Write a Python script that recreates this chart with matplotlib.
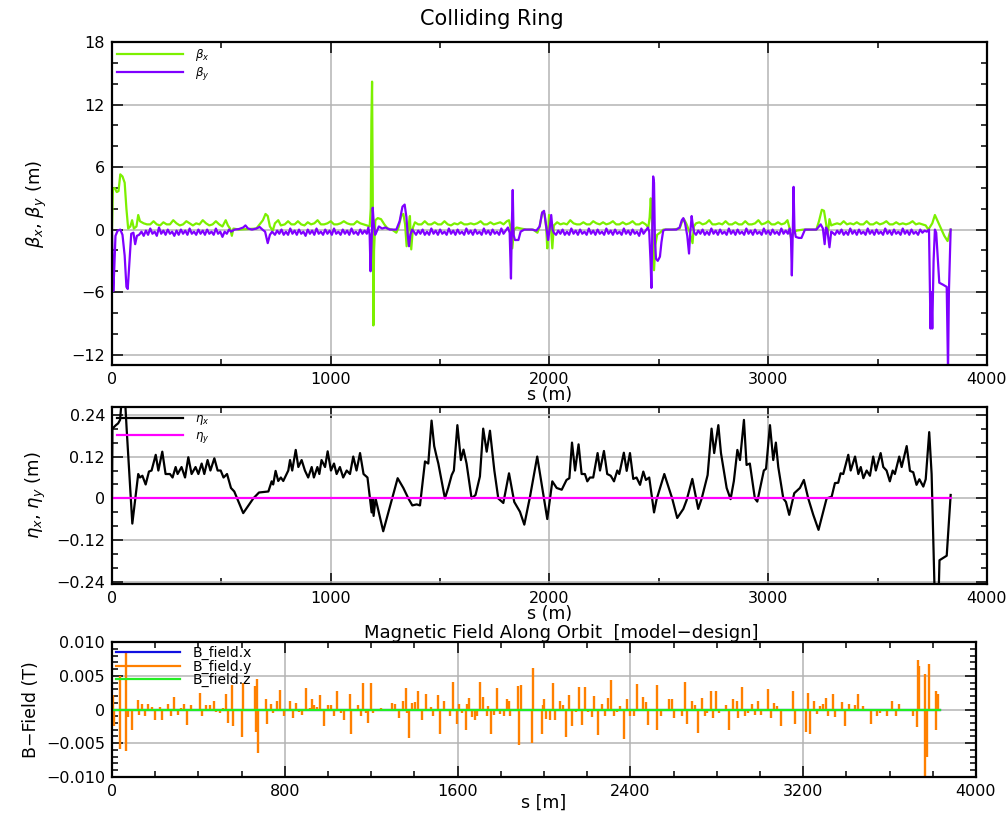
import matplotlib
matplotlib.use("Agg")
import matplotlib.pyplot as plt
from matplotlib.ticker import MultipleLocator, FuncFormatter

# ---- lattice functions along the ring: (s [m], value) ----
betax_pts = [(0,0.0),(4,3.9),(12,4.0),(22,3.6),(30,3.7),(38,5.3),(48,5.1),(58,4.5),(66,2.0),(74,0.1),
    (84,0.3),(92,0.9),(100,0.1),(112,0.3),(120,1.4),(128,0.8),
    (145,0.6),(160,0.5),(175,0.5),(190,0.8),(205,0.5),(220,0.4),(235,0.7),(250,0.5),(265,0.5),(280,0.9),
    (295,0.6),(310,0.4),(325,0.5),(340,0.8),(355,0.6),(370,0.4),(385,0.6),(400,0.5),(415,0.9),(430,0.6),
    (445,0.4),(460,0.5),(475,0.8),(490,0.5),(505,0.3),(520,0.9),(530,0.4),(540,0.1),(548,-0.6),(555,0.1),
    (580,0.0),(620,0.05),(660,0.1),(690,0.9),(702,1.5),(712,1.3),(722,0.3),(735,-0.1),(745,0.6),(760,0.9),(772,0.4),
    (790,0.5),(805,0.8),(820,0.5),(835,0.5),(850,0.8),(865,0.5),(880,0.4),(895,0.7),(910,0.5),(925,0.6),
    (940,0.9),(955,0.5),(970,0.5),(985,0.6),(1000,0.8),(1015,0.5),(1030,0.5),(1045,0.6),(1060,0.8),(1075,0.6),
    (1090,0.5),(1105,0.5),(1120,0.8),(1135,0.6),(1150,0.5),(1165,0.4),(1178,0.3),
    (1183,2.0),(1186,10.5),(1189,14.2),(1192,4.0),(1195,-9.2),(1198,-2.0),(1204,0.9),(1215,1.1),(1230,1.0),
    (1245,0.5),(1260,0.1),(1280,0.0),(1300,-0.3),(1310,0.2),(1322,1.3),(1332,1.5),(1340,0.5),(1347,-1.6),
    (1355,0.2),(1362,1.3),(1368,-1.9),(1376,0.2),(1385,0.7),
    (1400,0.5),(1415,0.5),(1430,0.8),(1445,0.5),(1460,0.5),(1475,0.7),(1490,0.5),(1505,0.5),(1520,0.8),
    (1535,0.5),(1550,0.4),(1565,0.6),(1580,0.5),(1595,0.7),(1610,0.5),(1625,0.5),(1640,0.6),(1655,0.5),
    (1670,0.6),(1685,0.8),(1700,0.5),(1715,0.5),(1730,0.7),(1745,0.5),(1760,0.6),(1775,0.7),(1790,0.5),
    (1805,0.8),(1815,0.9),(1822,0.2),(1830,-1.8),(1838,0.0),(1850,0.2),(1870,0.1),(1895,0.0),(1925,0.0),
    (1945,-0.3),(1955,0.3),(1968,1.7),(1978,1.5),(1985,0.2),(1990,-1.8),(1998,1.4),(2006,0.5),(2013,-1.8),(2020,0.4),
    (2035,0.7),(2050,0.5),(2065,0.6),(2080,0.5),(2095,0.9),(2110,0.6),(2125,0.5),(2140,0.5),(2155,0.7),
    (2170,0.5),(2185,0.5),(2200,0.8),(2215,0.6),(2230,0.5),(2245,0.7),(2260,0.5),(2275,0.6),(2290,0.8),
    (2305,0.5),(2320,0.5),(2335,0.7),(2350,0.5),(2365,0.6),(2380,0.8),(2395,0.5),(2410,0.5),(2425,0.7),
    (2440,0.5),(2452,0.2),
    (2458,1.2),(2463,3.0),(2468,1.0),(2474,-2.0),(2478,-3.9),(2484,-1.5),(2492,-0.5),(2505,-0.3),(2520,0.0),
    (2560,0.0),(2595,0.1),(2605,0.7),(2615,1.0),(2625,0.6),(2640,-0.2),(2654,-1.3),(2660,0.3),
    (2670,0.6),(2685,0.7),(2700,0.5),(2715,0.6),(2730,0.9),(2745,0.5),(2760,0.5),(2775,0.6),(2790,0.5),
    (2805,0.8),(2820,0.5),(2835,0.5),(2850,0.7),(2865,0.5),(2880,0.5),(2895,0.8),(2910,0.5),(2925,0.5),
    (2940,0.6),(2955,0.9),(2970,0.5),(2985,0.6),(3000,0.8),(3015,0.5),(3030,0.5),(3045,0.7),(3060,0.5),
    (3075,0.6),(3088,0.9),(3098,0.1),(3105,-1.0),(3115,-0.3),(3130,-0.1),(3160,0.0),(3220,0.0),(3232,0.8),
    (3245,1.9),(3255,1.8),(3265,0.5),(3272,-0.5),(3280,1.0),(3288,0.4),
    (3300,0.5),(3315,0.6),(3330,0.5),(3345,0.8),(3360,0.5),(3375,0.6),(3390,0.5),(3405,0.7),(3420,0.5),
    (3435,0.5),(3450,0.8),(3465,0.5),(3480,0.5),(3495,0.7),(3510,0.5),(3525,0.6),(3540,0.8),(3555,0.5),
    (3570,0.5),(3585,0.7),(3600,0.5),(3615,0.6),(3630,0.5),(3645,0.6),(3660,0.8),(3675,0.5),(3690,0.6),
    (3705,0.5),(3720,0.4),(3732,0.0),(3750,0.6),(3762,1.4),(3775,0.8),(3790,0.1),(3805,-0.6),(3820,-1.1),(3834,0.0)]

betay_pts = [(0,0.0),(3,-3.0),(6,-5.9),(10,-4.0),(16,-0.6),(26,-0.1),(38,0.0),(48,-0.5),(58,-2.5),(66,-5.5),
    (72,-5.7),(80,-3.0),(88,-0.4),(98,-0.3),(106,-1.4),(114,-0.6),(124,-0.5),
    (135,-0.2),(145,-0.6),(155,-0.1),(165,-0.5),(175,0.1),(185,-0.4),(195,-0.2),(205,-0.6),(215,0.2),
    (225,-0.4),(235,-0.1),(245,-0.5),(255,0.0),(265,-0.4),(275,-0.2),(285,-0.6),(295,-0.1),(305,-0.5),
    (315,0.0),(325,-0.4),(335,-0.1),(345,-0.5),(355,0.1),(365,-0.4),(375,-0.2),(385,-0.5),(395,0.0),
    (405,-0.4),(415,-0.1),(425,-0.5),(435,0.0),(445,-0.4),(455,-0.2),(465,-0.5),(475,0.1),(485,-0.4),
    (495,-0.2),(505,-0.7),(515,-0.2),(525,-0.4),(535,0.0),(545,-0.2),(560,0.0),(580,0.05),(600,0.2),
    (610,0.4),(622,0.1),(640,0.0),(660,0.1),(675,0.25),(688,0.0),(700,-0.2),(712,-1.3),(722,-0.5),(732,-0.2),
    (745,-0.5),(755,-0.1),(765,-0.4),(775,0.0),(785,-0.5),(795,-0.2),(805,-0.5),(815,0.1),(825,-0.4),
    (835,-0.1),(845,-0.5),(855,0.0),(865,-0.4),(875,-0.2),(885,-0.6),(895,0.0),(905,-0.4),(915,-0.1),
    (925,-0.5),(935,0.1),(945,-0.4),(955,-0.2),(965,-0.5),(975,0.0),(985,-0.4),(995,-0.1),(1005,-0.5),
    (1015,0.1),(1025,-0.4),(1035,-0.2),(1045,-0.5),(1055,0.0),(1065,-0.4),(1075,-0.1),(1085,-0.5),
    (1095,0.1),(1105,-0.4),(1115,-0.2),(1125,-0.5),(1135,0.0),(1145,-0.4),(1155,-0.1),(1165,-0.4),
    (1172,0.2),(1178,-0.5),(1182,-4.0),(1187,-1.0),(1192,2.1),(1197,0.5),(1203,-0.5),(1210,-0.2),
    (1220,0.3),(1235,0.1),(1250,0.2),(1270,0.0),(1300,0.0),(1315,0.8),(1328,2.2),(1338,2.4),(1346,1.2),
    (1352,-0.5),(1358,-1.6),(1364,-0.5),(1372,0.0),(1380,-0.2),
    (1390,-0.5),(1400,-0.1),(1410,-0.4),(1420,0.0),(1430,-0.5),(1440,-0.2),(1450,-0.5),(1460,0.1),
    (1470,-0.4),(1480,-0.1),(1490,-0.5),(1500,0.0),(1510,-0.4),(1520,-0.2),(1530,-0.5),(1540,0.1),
    (1550,-0.4),(1560,-0.1),(1570,-0.5),(1580,0.0),(1590,-0.4),(1600,-0.2),(1610,-0.5),(1620,0.1),
    (1630,-0.4),(1640,-0.1),(1650,-0.5),(1660,0.0),(1670,-0.4),(1680,-0.2),(1690,-0.5),(1700,0.1),
    (1710,-0.4),(1720,-0.1),(1730,-0.5),(1740,0.0),(1750,-0.4),(1760,-0.2),(1770,-0.5),(1780,0.1),
    (1790,-0.4),(1800,-0.1),(1810,0.2),(1818,-0.3),(1824,-4.7),(1828,0.5),(1832,3.8),(1836,-0.5),
    (1842,-1.0),(1858,-1.0),(1868,-0.2),(1885,0.0),(1920,0.0),(1940,-0.1),(1955,0.3),(1966,1.6),
    (1975,1.8),(1984,0.5),(1994,-1.0),(2002,0.3),(2008,1.4),(2014,0.0),(2020,-0.3),
    (2030,-0.5),(2040,-0.1),(2050,-0.4),(2060,0.0),(2070,-0.5),(2080,-0.2),(2090,-0.5),(2100,0.1),
    (2110,-0.4),(2120,-0.1),(2130,-0.5),(2140,0.0),(2150,-0.4),(2160,-0.2),(2170,-0.5),(2180,0.1),
    (2190,-0.4),(2200,-0.1),(2210,-0.5),(2220,0.0),(2230,-0.4),(2240,-0.2),(2250,-0.5),(2260,0.1),
    (2270,-0.4),(2280,-0.1),(2290,-0.5),(2300,0.0),(2310,-0.4),(2320,-0.2),(2330,-0.5),(2340,0.1),
    (2350,-0.4),(2360,-0.1),(2370,-0.5),(2380,0.0),(2390,-0.4),(2400,-0.2),(2410,-0.6),(2420,0.1),
    (2430,-0.4),(2440,-0.1),(2450,0.2),(2456,-0.2),(2462,-3.0),(2466,-5.6),(2470,0.0),(2474,5.1),
    (2478,4.5),(2482,-1.0),(2487,-2.8),(2495,-3.0),(2505,-2.6),(2512,-1.2),(2520,-0.1),(2530,0.0),
    (2580,0.0),(2595,0.2),(2605,0.9),(2612,1.1),(2620,0.6),(2630,-0.6),(2638,-2.3),(2643,-0.5),
    (2650,1.3),(2656,0.3),(2662,-0.3),
    (2670,-0.5),(2680,-0.1),(2690,-0.4),(2700,0.0),(2710,-0.5),(2720,-0.2),(2730,-0.5),(2740,0.1),
    (2750,-0.4),(2760,-0.1),(2770,-0.5),(2780,0.0),(2790,-0.4),(2800,-0.2),(2810,-0.5),(2820,0.1),
    (2830,-0.4),(2840,-0.1),(2850,-0.5),(2860,0.0),(2870,-0.4),(2880,-0.2),(2890,-0.5),(2900,0.1),
    (2910,-0.4),(2920,-0.1),(2930,-0.5),(2940,0.0),(2950,-0.4),(2960,-0.2),(2970,-0.5),(2980,0.1),
    (2990,-0.4),(3000,-0.1),(3010,-0.5),(3020,0.0),(3030,-0.4),(3040,-0.2),(3050,-0.5),(3060,0.1),
    (3070,-0.4),(3080,-0.1),(3090,-0.4),(3098,0.1),(3104,-0.8),(3108,-4.4),(3112,-0.5),(3116,4.1),
    (3120,0.0),(3126,-0.7),(3140,-0.8),(3152,-0.8),(3160,-0.4),(3168,0.0),(3220,0.0),(3232,0.3),
    (3240,0.5),(3250,0.1),(3258,-1.4),(3264,0.2),(3270,0.0),(3280,-1.7),(3288,-0.2),(3295,-0.3),
    (3305,-0.5),(3315,-0.1),(3325,-0.4),(3335,0.0),(3345,-0.5),(3355,-0.2),(3365,-0.5),(3375,0.1),
    (3385,-0.4),(3395,-0.1),(3405,-0.5),(3415,0.0),(3425,-0.4),(3435,-0.2),(3445,-0.5),(3455,0.1),
    (3465,-0.4),(3475,-0.1),(3485,-0.5),(3495,0.0),(3505,-0.4),(3515,-0.2),(3525,-0.5),(3535,0.1),
    (3545,-0.4),(3555,-0.1),(3565,-0.5),(3575,0.0),(3585,-0.4),(3595,-0.2),(3605,-0.5),(3615,0.1),
    (3625,-0.4),(3635,-0.1),(3645,-0.5),(3655,0.0),(3665,-0.4),(3675,-0.2),(3685,-0.5),(3695,0.0),
    (3705,-0.3),(3715,-0.1),(3725,-0.2),(3735,0.0),(3742,-9.5),(3746,-6.0),(3750,-9.5),(3756,-3.0),
    (3762,0.0),(3768,-0.3),(3782,-5.1),(3800,-5.3),(3816,-5.5),(3822,-13.5),(3826,-6.0),(3834,0.0)]

etax_pts = [(0,0.0),(2,0.20),(18,0.21),(28,0.215),(37,0.225),(44,0.28),(60,0.28),(67,0.2),(93,-0.072),
    (120,0.07),(128,0.06),(139,0.065),(154,0.04),(169,0.077),(181,0.08),(200,0.125),(212,0.08),(230,0.134),
    (245,0.07),(265,0.07),(277,0.06),(291,0.09),(300,0.07),(318,0.09),(334,0.06),(349,0.118),(364,0.07),
    (382,0.09),(395,0.07),(410,0.10),(422,0.07),(437,0.11),(450,0.08),(468,0.115),(483,0.08),(497,0.08),
    (510,0.06),(526,0.07),(544,0.03),(559,0.02),(600,-0.042),(646,0.0),(672,0.017),(715,0.02),(730,0.049),
    (737,0.04),(748,0.079),(760,0.05),(772,0.06),(783,0.05),(806,0.08),(814,0.11),(824,0.08),(840,0.139),
    (852,0.09),(867,0.11),(882,0.08),(897,0.06),(913,0.09),(923,0.06),(939,0.09),(948,0.07),(958,0.11),
    (974,0.09),(986,0.135),(1001,0.08),(1015,0.10),(1027,0.07),(1042,0.09),(1057,0.06),(1073,0.08),
    (1088,0.07),(1103,0.12),(1118,0.08),(1134,0.13),(1150,0.07),(1168,0.06),(1187,-0.04),(1191,0.0),
    (1196,-0.05),(1205,0.0),(1240,-0.094),(1306,0.058),(1332,0.03),(1355,0.0),(1373,-0.02),(1393,-0.017),
    (1408,-0.02),(1431,0.106),(1446,0.10),(1461,0.223),(1473,0.15),(1484,0.12),(1492,0.10),(1522,0.0),
    (1537,0.03),(1553,0.067),(1563,0.08),(1579,0.21),(1595,0.11),(1607,0.14),(1621,0.10),(1644,0.0),
    (1662,0.01),(1682,0.063),(1697,0.20),(1713,0.134),(1728,0.194),(1748,0.08),(1766,0.0),(1789,-0.013),
    (1815,0.072),(1839,-0.01),(1865,-0.038),(1885,-0.075),(1911,0.005),(1944,0.12),(1990,-0.059),
    (2013,0.049),(2033,0.03),(2056,0.025),(2078,0.053),(2091,0.058),(2103,0.16),(2117,0.08),(2133,0.155),
    (2147,0.07),(2162,0.07),(2173,0.049),(2185,0.06),(2200,0.06),(2220,0.13),(2231,0.08),(2249,0.136),
    (2264,0.07),(2280,0.065),(2295,0.049),(2310,0.08),(2319,0.07),(2340,0.131),(2353,0.079),(2368,0.13),
    (2383,0.056),(2398,0.06),(2414,0.039),(2429,0.077),(2441,0.053),(2456,0.06),(2478,-0.04),(2490,-0.002),
    (2525,0.07),(2561,0.0),(2584,-0.056),(2612,-0.03),(2627,-0.005),(2653,0.056),(2680,-0.030),(2696,0.0),
    (2723,0.067),(2741,0.20),(2753,0.13),(2772,0.21),(2784,0.13),(2810,0.03),(2828,-0.002),(2843,0.05),
    (2859,0.139),(2871,0.11),(2889,0.225),(2901,0.096),(2916,0.10),(2939,0.0),(2950,-0.009),(2970,0.05),
    (2980,0.08),(2990,0.085),(3008,0.21),(3023,0.11),(3035,0.16),(3046,0.09),(3069,0.0),(3081,-0.01),
    (3096,-0.047),(3119,0.015),(3145,0.03),(3163,0.053),(3183,0.0),(3206,-0.047),(3230,-0.09),(3267,0.0),
    (3290,0.005),(3305,0.044),(3320,0.045),(3331,0.072),(3343,0.07),(3366,0.125),(3377,0.08),(3397,0.12),
    (3412,0.07),(3423,0.09),(3435,0.058),(3450,0.08),(3465,0.065),(3480,0.12),(3492,0.08),(3514,0.13),
    (3526,0.09),(3541,0.08),(3556,0.049),(3569,0.08),(3579,0.07),(3599,0.12),(3610,0.09),(3633,0.15),
    (3648,0.079),(3663,0.075),(3678,0.039),(3691,0.055),(3709,0.034),(3720,0.055),(3736,0.19),(3747,0.07),
    (3762,-0.30),(3778,-0.30),(3783,-0.177),(3816,-0.164),(3834,0.01)]

etay_pts = [(0,0.0),(3834,0.0)]

# ---- field along orbit ----
bxz_pts = [(0,0.0),(3834,0.0)]
by_s = [5,8,36,38,64,66,76,91,119,127,140,153,168,184,199,222,233,258,273,289,304,319,333,349,366,381,
    407,418,435,454,474,481,500,515,526,539,554,562,603,608,662,665,673,674,711,719,736,747,762,778,796,
    824,839,850,867,881,898,915,924,937,947,963,981,998,1014,1029,1043,1060,1075,1102,1106,1137,1152,1163,
    1174,1186,1197,1210,1245,1295,1310,1328,1345,1361,1364,1375,1387,1403,1418,1434,1453,1464,1477,1488,
    1508,1518,1538,1549,1565,1580,1595,1608,1622,1639,1642,1652,1665,1680,1688,1703,1719,1734,1742,1757,
    1770,1781,1796,1816,1827,1838,1842,1881,1884,1893,1943,1948,1989,1994,2000,2009,2028,2040,2051,2074,
    2086,2102,2117,2131,2146,2162,2177,2190,2205,2220,2233,2251,2267,2282,2298,2308,2324,2339,2352,2370,
    2386,2398,2416,2429,2457,2472,2480,2521,2524,2540,2580,2591,2602,2637,2652,2663,2683,2699,2714,2730,
    2745,2756,2771,2784,2796,2811,2842,2858,2876,2892,2899,2915,2930,2946,2961,2977,2992,3007,3038,3049,
    3064,3080,3095,3154,3162,3213,3223,3231,3250,3265,3277,3293,3305,3316,3336,3347,3382,3393,3413,3439,
    3455,3478,3512,3540,3555,3589,3609,3632,3645,3710,3725,3733,3737,3762,3764,3771,3784,3814,3817,3825]
by_val = [0.0022,-0.0025,0.005,-0.0058,0.0084,-0.0062,-0.0011,-0.0031,0.0014,-0.0008,0.0008,-0.0009,
    0.0008,0.0003,-0.0015,0.0003,-0.0015,0.0008,-0.0009,0.0018,-0.0008,0.0002,0.0008,-0.0023,0.0006,
    -0.0001,0.0025,-0.001,0.0006,0.0006,0.0012,-0.0004,-0.0005,0.0002,0.0023,-0.002,0.0036,-0.0024,
    -0.0041,0.004,0.0035,-0.0034,0.0045,-0.0064,0.0016,-0.0021,0.0008,-0.0005,0.0013,0.0029,-0.0009,
    0.0013,-0.0013,0.001,-0.0004,-0.0008,0.0032,0.0002,0.0015,0.0006,0.0003,0.0021,-0.0024,0.0006,0.0006,
    -0.001,0.0028,-0.0005,-0.0016,0.0023,-0.0037,0.0006,-0.0009,0.0039,-0.0005,-0.002,0.0039,-0.0005,
    0.0002,0.001,0.0008,-0.0013,0.0013,0.0032,-0.0005,-0.0042,0.001,0.0011,0.0028,-0.0016,0.0023,-0.0001,
    0.0003,-0.0009,0.0021,-0.0037,0.0013,-0.0001,-0.001,0.0041,-0.0021,0.0008,-0.0005,-0.003,0.0008,
    0.0017,-0.0011,-0.0016,-0.0009,0.0041,0.0018,-0.0009,0.0005,-0.0037,-0.0008,0.0032,-0.0006,-0.0009,
    0.0016,0.0012,-0.0009,0.0035,-0.0053,0.0036,-0.0049,0.0061,-0.0036,0.0006,0.0015,-0.0014,-0.0016,
    0.0039,-0.0016,0.0013,0.0007,-0.0041,0.0021,-0.0025,-0.0004,0.0033,-0.0023,0.0033,-0.0004,-0.0011,
    0.002,-0.0038,0.0008,-0.0009,0.0017,0.0043,-0.0009,-0.0003,0.0005,-0.0043,0.0016,-0.0009,-0.0009,
    0.0038,0.0018,0.0011,-0.0023,0.0036,-0.003,-0.0009,0.0015,0.0015,-0.0013,-0.0009,0.0041,-0.0021,
    0.0012,0.0007,-0.0035,0.0017,-0.0009,-0.0005,0.0028,-0.0013,0.0027,-0.0005,0.0007,-0.0031,0.0016,
    0.0012,-0.0013,0.0033,-0.0009,-0.0005,0.0008,-0.0008,0.0012,-0.0008,0.0031,-0.0013,0.001,0.0005,
    -0.0024,0.0028,-0.0021,-0.0034,0.0025,-0.0037,0.0013,-0.0006,0.0005,0.0008,0.0017,-0.0009,0.0023,
    -0.0011,0.0011,-0.0025,0.0008,0.0006,0.0023,0.0005,-0.0021,-0.0009,-0.0005,-0.0009,0.0013,-0.0009,
    0.0008,-0.0009,-0.0026,0.0074,0.0065,0.0053,-0.0105,-0.007,0.0068,-0.0031,0.0028,0.0023]


def split(pts):
    return [p[0] for p in pts], [p[1] for p in pts]


def style_axes(ax, xmaj, xmin, ymaj, ymin):
    ax.xaxis.set_major_locator(MultipleLocator(xmaj))
    ax.xaxis.set_minor_locator(MultipleLocator(xmin))
    ax.yaxis.set_major_locator(MultipleLocator(ymaj))
    ax.yaxis.set_minor_locator(MultipleLocator(ymin))
    ax.tick_params(which='both', direction='in', top=True, right=True, labelsize=11.5, pad=5)
    ax.tick_params(which='major', length=8, width=1.1)
    ax.tick_params(which='minor', length=4.5, width=1.1)
    ax.grid(True, which='major', color='#b4b4b4', lw=1.1)
    for sp in ax.spines.values():
        sp.set_linewidth(1.6)
    ax.set_axisbelow(True)


def fmt(dec):
    def f(v, pos):
        if abs(v) < 1e-12:
            return '0'
        return ('%.*f' % (dec, v)).replace('-', '\u2212')
    return FuncFormatter(f)


fig = plt.figure(figsize=(10.07, 8.13), dpi=100)
fig.text(0.4886, 0.977, 'Colliding Ring', ha='center', va='center', fontsize=15)

# beta panel
ax1 = fig.add_axes([0.1112, 0.5510, 0.8689, 0.3973])
s, v = split(betax_pts)
ax1.plot(s, v, color='#7cf000', lw=1.6, label=r'$\beta_x$')
s, v = split(betay_pts)
ax1.plot(s, v, color='#7f00ff', lw=1.6, label=r'$\beta_y$')
ax1.set_xlim(0, 4000)
ax1.set_ylim(-13, 18)
style_axes(ax1, 1000, 500, 6, 2)
ax1.set_xlabel('s (m)', fontsize=12.5, labelpad=-1)
ax1.set_ylabel(r'$\beta_x$, $\beta_y$ (m)', fontsize=13, labelpad=16)

# dispersion panel
ax2 = fig.add_axes([0.1112, 0.2817, 0.8689, 0.2177])
s, v = split(etax_pts)
ax2.plot(s, v, color='black', lw=1.6, label=r'$\eta_x$')
s, v = split(etay_pts)
ax2.plot(s, v, color='#ff00ff', lw=1.6, label=r'$\eta_y$')
ax2.set_xlim(0, 4000)
ax2.set_ylim(-0.245, 0.262)
style_axes(ax2, 1000, 500, 0.12, 0.04)
ax2.yaxis.set_major_formatter(fmt(2))
ax2.set_xlabel('s (m)', fontsize=12.5, labelpad=-1)
ax2.set_ylabel(r'$\eta_x$, $\eta_y$ (m)', fontsize=13, labelpad=6)

# magnetic field panel
ax3 = fig.add_axes([0.1112, 0.0443, 0.8580, 0.1660])
s, v = split(bxz_pts)
ax3.plot(s, v, color='#1010e0', lw=1.6, label='B_field.x')
ax3.vlines(by_s, 0, by_val, color='#ff8000', lw=1.7)
ax3.plot([], [], color='#ff8000', lw=1.6, label='B_field.y')
ax3.plot(s, v, color='#22ee22', lw=1.6, label='B_field.z')
ax3.set_xlim(0, 4000)
ax3.set_ylim(-0.01, 0.01)
style_axes(ax3, 800, 200, 0.005, 0.001)
ax3.yaxis.set_major_formatter(fmt(3))
ax3.set_xlabel('s [m]', fontsize=12.5, labelpad=-4)
ax3.set_ylabel('B\u2212Field (T)', fontsize=12.5, labelpad=4)
ax3.set_title('Magnetic Field Along Orbit  [model\u2212design]', fontsize=13, pad=3, x=0.52)

for ax in (ax1, ax2):
    ax.legend(loc='upper left', frameon=False, fontsize=8.5, handlelength=5.6,
              handletextpad=1.0, labelspacing=0.15, borderaxespad=0.1, borderpad=0.35)
ax3.legend(loc='upper left', frameon=False, fontsize=10, handlelength=4.6,
           handletextpad=0.9, labelspacing=-0.05, borderaxespad=0.1, borderpad=0.2)

fig.savefig('out.png', dpi=100)
